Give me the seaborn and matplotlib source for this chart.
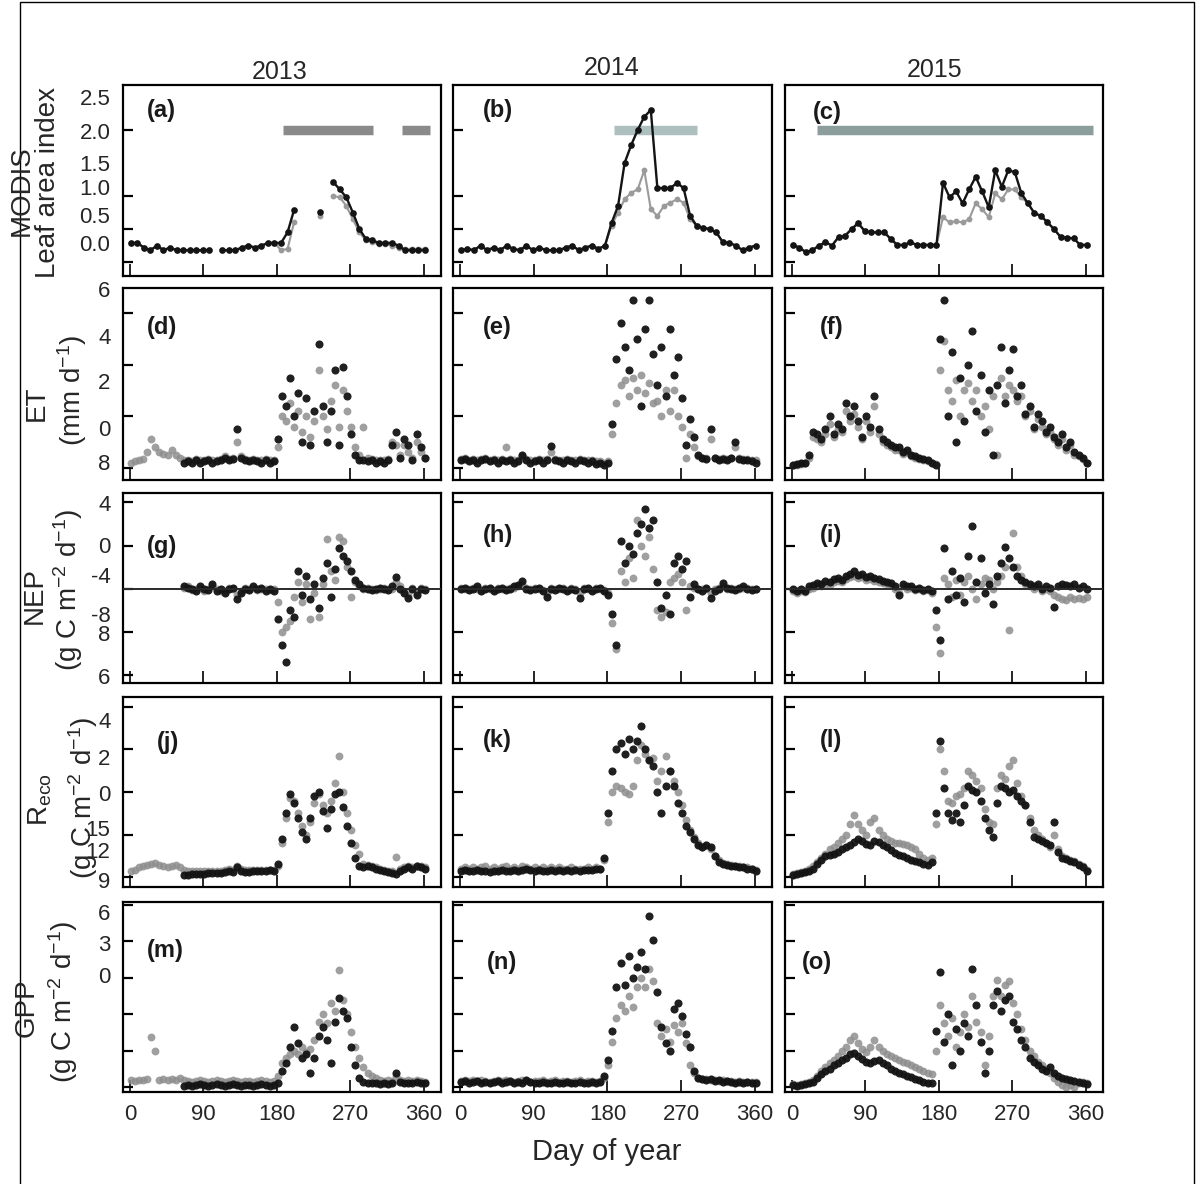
import numpy as np
import pandas as pd
import matplotlib
matplotlib.use('Agg')
import matplotlib.pyplot as plt
import seaborn as sns
from matplotlib.patches import Rectangle
from matplotlib.ticker import FixedLocator, FixedFormatter, NullFormatter

nan = np.nan
years = ['2013', '2014', '2015']
days_lai = np.arange(1, 366, 8)    # MODIS 8-day composites
days_flux = np.arange(1, 366, 5)   # daily fluxes (read every 5 days)

# ---------------- MODIS LAI (black = site, gray = alternative) ----------------
lai_black_2013 = [0.29, 0.29, 0.22, 0.18, 0.25, 0.18, 0.22, 0.18, 0.18, 0.18,
                  0.18, 0.18, 0.18, nan, 0.18, 0.18, 0.18, 0.22, 0.25, 0.22,
                  0.25, 0.29, 0.29, 0.29, 0.45, 0.79, nan, nan, nan, 0.76,
                  nan, 1.21, 1.10, 0.98, 0.75, 0.50, 0.35, 0.33, 0.29, 0.29,
                  0.29, 0.25, 0.18, 0.18, 0.18, 0.18]
lai_gray_2013 = [0.29, 0.29, 0.22, 0.18, 0.25, 0.18, 0.22, 0.18, 0.18, 0.18,
                 0.18, 0.18, 0.18, nan, 0.18, 0.18, 0.18, 0.22, 0.25, 0.22,
                 0.25, 0.29, 0.29, 0.18, 0.20, 0.60, nan, nan, nan, 0.70,
                 nan, 1.00, 0.98, 0.85, 0.65, 0.45, 0.33, 0.30, 0.27, 0.27,
                 0.25, 0.22, 0.20, 0.20, 0.20, 0.20]
lai_black_2014 = [0.18, 0.20, 0.18, 0.25, 0.18, 0.22, 0.18, 0.25, 0.20, 0.18,
                  0.25, 0.18, 0.22, 0.18, 0.18, 0.18, 0.22, 0.25, 0.18, 0.22,
                  0.25, 0.20, 0.25, 0.59, 0.85, 1.50, 1.77, 2.00, 2.20, 2.30,
                  1.12, 1.12, 1.12, 1.20, 1.12, 0.70, 0.55, 0.52, 0.50, 0.45,
                  0.30, 0.29, 0.25, 0.18, 0.22, 0.25]
lai_gray_2014 = [0.18, 0.20, 0.18, 0.25, 0.18, 0.22, 0.18, 0.25, 0.20, 0.18,
                 0.25, 0.18, 0.22, 0.18, 0.18, 0.18, 0.22, 0.25, 0.18, 0.22,
                 0.25, 0.20, 0.25, 0.55, 0.75, 0.95, 1.05, 1.10, 1.39, 0.80,
                 0.70, 0.85, 0.90, 0.95, 0.90, 0.65, 0.55, 0.52, 0.50, 0.45,
                 0.30, 0.29, 0.25, 0.18, 0.22, 0.25]
lai_black_2015 = [0.26, 0.22, 0.15, 0.18, 0.25, 0.30, 0.25, 0.38, 0.40, 0.50,
                  0.59, 0.47, 0.45, 0.45, 0.45, 0.35, 0.26, 0.26, 0.30, 0.26,
                  0.26, 0.26, 0.26, 1.20, 0.98, 1.07, 0.89, 1.10, 1.29, 1.07,
                  0.83, 1.39, 1.14, 1.39, 1.36, 1.04, 0.89, 0.74, 0.70, 0.60,
                  0.50, 0.38, 0.37, 0.36, 0.26, 0.26]
lai_gray_2015 = [0.26, 0.22, 0.15, 0.18, 0.25, 0.30, 0.25, 0.38, 0.40, 0.50,
                 0.59, 0.47, 0.45, 0.45, 0.45, 0.35, 0.26, 0.26, 0.30, 0.26,
                 0.26, 0.26, 0.26, 0.68, 0.60, 0.62, 0.60, 0.65, 0.89, 0.80,
                 0.68, 1.04, 0.95, 1.10, 1.10, 0.98, 0.89, 0.74, 0.70, 0.60,
                 0.50, 0.38, 0.37, 0.36, 0.26, 0.26]

# growing-season bars (start day, end day) drawn at LAI = 2.0
bar_start_2013 = [187, 333]
bar_end_2013 = [298, 368]
bar_start_2014 = [188]
bar_end_2014 = [289]
bar_start_2015 = [31]
bar_end_2015 = [369]
bar_level = 2.0

# ---------------- ET ----------------
et_black_2013 = [nan] * 10 + [
    nan, nan, nan, 0.2, 0.25, 0.2, 0.3, 0.2, 0.25, 0.3,
    0.2, 0.25, 0.3, 0.4, 0.3, 0.35, 1.5, 0.4, 0.3, 0.25,
    0.3, 0.25, 0.2, 0.3, 0.2, 0.25, 1.1, 2.8, 2.4, 3.5,
    2.0, 2.9, 1.0, 2.7, 0.9, 2.2, 4.8, 2.4, 1.0, 2.2,
    3.8, 0.9, 3.9, 2.8, 1.3, 0.5, 0.3, 0.3, 0.25, 0.3,
    0.2, 0.25, 0.2, 0.3, 0.9, 1.4, 0.4, 1.1, 0.9, 0.3,
    1.3, 0.8, 0.4]
et_gray_2013 = [
    0.2, 0.25, 0.3, 0.35, 0.6, 1.1, 0.8, 0.6, 0.55, 0.5,
    0.7, 0.5, 0.4, 0.3, 0.3, 0.25, 0.35, 0.3, 0.3, 0.35,
    0.3, 0.3, 0.35, 0.45, 0.35, 0.4, 1.0, 0.45, 0.35, 0.3,
    0.35, 0.3, 0.3, 0.35, 0.3, 0.3, 0.8, 2.0, 1.8, 2.5,
    1.6, 2.2, 1.4, 2.0, 1.2, 1.8, 3.8, 2.0, 1.5, 2.6,
    3.2, 1.6, 3.0, 2.2, 1.6, 0.8, 0.5, 1.6, 0.4, 0.35,
    0.3, 0.3, 0.3, 0.35, 1.0, 0.9, 0.5, 0.9, 0.6, 0.4,
    1.0, 0.6, 0.4]
et_black_2014 = [
    0.3, 0.35, 0.25, 0.3, 0.2, 0.3, 0.35, 0.25, 0.3, 0.2,
    0.3, 0.25, 0.3, 0.2, 0.25, 0.5, 0.3, 0.2, 0.25, 0.3,
    0.2, 0.3, 0.85, 0.3, 0.25, 0.2, 0.3, 0.25, 0.2, 0.3,
    0.25, 0.2, 0.25, 0.15, 0.2, 0.1, 0.2, 1.7, 4.2, 5.6,
    4.7, 3.8, 6.5, 5.0, 2.4, 5.4, 6.5, 4.4, 3.2, 4.7,
    2.8, 5.4, 3.6, 4.3, 2.7, 0.9, 1.9, 1.2, 0.5, 0.4,
    0.35, 1.5, 0.4, 0.3, 0.35, 0.3, 0.4, 1.0, 0.35, 0.3,
    0.3, 0.25, 0.2]
et_gray_2014 = [
    0.35, 0.4, 0.3, 0.35, 0.3, 0.35, 0.4, 0.3, 0.35, 0.3,
    0.35, 0.8, 0.35, 0.3, 0.3, 0.45, 0.35, 0.3, 0.3, 0.35,
    0.3, 0.35, 0.6, 0.35, 0.3, 0.3, 0.35, 0.3, 0.3, 0.35,
    0.3, 0.3, 0.3, 0.25, 0.25, 0.2, 0.25, 1.3, 2.5, 3.2,
    3.4, 2.8, 3.5, 3.0, 3.6, 2.9, 3.3, 2.5, 2.6, 2.0,
    3.0, 2.2, 3.0, 2.0, 1.6, 0.4, 1.3, 0.8, 0.45, 0.4,
    0.4, 1.1, 0.4, 0.35, 0.4, 0.35, 0.4, 0.8, 0.4, 0.35,
    0.35, 0.3, 0.3]
et_black_2015 = [
    0.1, 0.15, 0.2, 0.2, 0.5, 1.4, 1.3, 1.1, 1.5, 2.0,
    1.3, 1.7, 1.5, 2.5, 2.0, 2.4, 1.8, 1.2, 2.0, 1.6,
    2.8, 1.5, 1.1, 1.0, 0.9, 0.8, 0.8, 0.6, 0.7, 0.5,
    0.45, 0.4, 0.35, 0.3, 0.2, 0.1, 5.0, 6.5, 2.0, 4.5,
    1.0, 3.5, 1.8, 4.0, 5.3, 2.2, 3.6, 1.4, 3.0, 0.5,
    3.2, 4.7, 2.5, 3.8, 4.6, 2.8, 3.2, 2.1, 2.4, 1.6,
    2.1, 1.8, 1.4, 1.6, 1.2, 1.0, 1.3, 0.8, 1.0, 0.6,
    0.5, 0.4, 0.2]
et_gray_2015 = [
    0.1, 0.1, 0.15, 0.2, 0.4, 1.2, 1.1, 1.0, 1.3, 1.7,
    1.2, 1.5, 1.4, 2.2, 1.8, 2.1, 1.6, 1.1, 1.8, 1.4,
    2.4, 1.3, 1.0, 0.9, 0.8, 0.7, 0.7, 0.55, 0.6, 0.45,
    0.4, 0.35, 0.3, 0.25, 0.2, 0.15, 3.8, 4.9, 3.0, 2.6,
    3.4, 2.0, 3.0, 3.3, 2.6, 3.0, 2.0, 2.4, 1.5, 2.8,
    0.5, 3.5, 2.8, 3.2, 3.0, 2.6, 2.8, 2.0, 2.2, 1.5,
    1.9, 1.6, 1.3, 1.4, 1.1, 0.9, 1.1, 0.7, 0.9, 0.5,
    0.45, 0.35, 0.2]

# ---------------- NEP ----------------
nep_black_2013 = [nan] * 10 + [
    nan, nan, nan, 0.1, 0.05, 0.0, -0.1, 0.1, 0.0, -0.05,
    0.2, -0.1, 0.0, -0.2, 0.0, 0.05, -0.5, -0.2, 0.0, -0.05,
    0.1, 0.0, 0.05, -0.1, 0.0, -0.1, -1.4, -2.6, -3.4, -1.0,
    -1.3, 0.8, -0.3, 0.6, -0.5, 0.2, -0.9, 0.5, 1.2, -0.4,
    0.9, 1.9, 1.5, 1.3, 0.8, 0.4, 0.2, 0.05, 0.0, -0.05,
    0.0, 0.05, 0.0, -0.05, 0.1, 0.55, 0.0, -0.2, -0.45, 0.0,
    -0.3, 0.0, -0.05]
nep_gray_2013 = [nan] * 10 + [
    nan, nan, nan, 0.05, 0.1, -0.05, 0.0, 0.05, -0.1, 0.0,
    0.1, 0.0, -0.1, -0.1, 0.05, 0.0, -0.3, -0.1, 0.05, 0.0,
    0.05, -0.05, 0.0, 0.0, -0.05, 0.0, -0.6, -2.0, -1.8, -1.5,
    -0.4, 0.3, -0.6, 0.2, -1.4, -0.2, -1.3, 0.2, 2.3, 0.8,
    0.4, 2.4, 2.2, 1.0, -0.4, 0.3, 0.1, 0.0, 0.05, 0.0,
    -0.05, 0.0, 0.05, 0.0, 0.0, 0.3, 0.1, -0.1, -0.3, 0.05,
    -0.2, 0.05, 0.0]
nep_black_2014 = [
    0.0, 0.05, -0.05, 0.0, 0.1, -0.1, 0.0, 0.05, -0.1, 0.0,
    0.05, -0.05, 0.0, 0.1, 0.15, 0.35, 0.0, -0.05, 0.0, 0.05,
    -0.1, -0.4, 0.0, -0.05, 0.05, 0.0, -0.1, 0.0, -0.05, -0.45,
    0.0, 0.05, -0.1, 0.0, 0.05, -0.1, -0.3, -1.2, -2.6, 2.2,
    1.2, 2.0, 1.6, 2.6, 3.0, 3.7, 2.8, 3.2, 0.3, -0.9,
    -0.3, -1.2, 1.2, 1.5, 0.9, 1.3, -0.4, 0.2, 0.0, -0.1,
    0.05, -0.45, -0.1, 0.0, 0.25, 0.05, 0.0, -0.05, 0.05, 0.1,
    0.0, -0.05, 0.0]
nep_gray_2014 = [
    0.05, 0.0, 0.0, 0.05, 0.0, -0.05, 0.05, 0.0, -0.05, 0.05,
    0.0, 0.0, 0.05, 0.05, 0.1, 0.2, 0.05, 0.0, 0.05, 0.0,
    -0.05, -0.2, 0.05, 0.0, 0.0, 0.05, -0.05, 0.05, 0.0, -0.2,
    0.05, 0.0, -0.05, 0.05, 0.0, -0.05, -0.2, -1.6, -2.8, 0.8,
    0.3, 1.4, 0.5, 3.2, 2.0, 1.5, 2.4, 0.9, -1.0, -1.3,
    -1.1, 0.3, 0.5, 0.7, 0.3, -1.0, 0.1, 0.05, 0.0, 0.0,
    0.0, -0.2, 0.0, 0.05, 0.1, 0.0, 0.05, 0.0, 0.0, 0.05,
    0.05, 0.0, 0.0]
nep_black_2015 = [
    0.0, -0.1, 0.0, -0.1, 0.1, 0.15, 0.25, 0.2, 0.35, 0.3,
    0.45, 0.5, 0.4, 0.6, 0.7, 0.8, 0.65, 0.7, 0.55, 0.6,
    0.5, 0.45, 0.35, 0.3, 0.25, 0.1, -0.3, 0.2, 0.1, 0.1,
    0.0, 0.05, -0.05, 0.0, -0.1, -1.0, -2.4, 1.9, -0.5, 0.8,
    -0.3, 0.5, -0.6, 1.5, 2.9, 0.3, 1.4, -0.2, 0.2, -0.7,
    0.6, 1.2, 1.95, 1.4, 1.0, 0.6, 0.4, 0.3, 0.2, 0.1,
    0.2, 0.0, 0.1, 0.05, -0.85, 0.1, 0.2, 0.15, 0.1, 0.2,
    0.05, 0.1, 0.0]
nep_gray_2015 = [
    -0.1, -0.2, -0.1, -0.15, 0.0, 0.05, 0.1, 0.1, 0.2, 0.15,
    0.3, 0.35, 0.3, 0.45, 0.55, 0.6, 0.5, 0.55, 0.4, 0.45,
    0.35, 0.3, 0.25, 0.2, 0.15, 0.0, -0.2, 0.1, 0.0, 0.05,
    -0.05, 0.0, -0.1, -0.05, -0.2, -1.8, -3.0, 0.5, 0.2, -0.4,
    0.4, -0.3, 0.3, 0.6, 0.0, -0.5, 0.2, 0.5, 0.4, 0.0,
    0.3, 0.6, 1.0, -1.9, 2.6, 1.0, 0.6, 0.2, 0.1, 0.0,
    0.1, -0.1, 0.0, -0.1, -0.3, -0.4, -0.5, -0.55, -0.4, -0.5,
    -0.45, -0.5, -0.4]

# ---------------- Reco ----------------
reco_black_2013 = [nan] * 10 + [
    nan, nan, nan, 0.1, 0.1, 0.12, 0.15, 0.15, 0.15, 0.18,
    0.2, 0.2, 0.2, 0.25, 0.3, 0.25, 0.45, 0.3, 0.25, 0.25,
    0.28, 0.3, 0.3, 0.3, 0.32, 0.3, 0.6, 1.8, 3.0, 3.9,
    3.5, 2.8, 2.1, 1.8, 2.8, 3.8, 4.0, 3.1, 2.3, 3.2,
    3.9, 4.0, 3.3, 2.4, 1.6, 0.9, 0.5, 0.45, 0.5, 0.45,
    0.4, 0.35, 0.3, 0.25, 0.2, 0.15, 0.3, 0.4, 0.45, 0.4,
    0.5, 0.45, 0.4]
reco_gray_2013 = [
    0.3, 0.35, 0.45, 0.5, 0.55, 0.6, 0.65, 0.55, 0.5, 0.45,
    0.5, 0.55, 0.45, 0.35, 0.3, 0.3, 0.3, 0.3, 0.3, 0.3,
    0.3, 0.3, 0.3, 0.35, 0.4, 0.35, 0.5, 0.4, 0.35, 0.35,
    0.35, 0.35, 0.35, 0.35, 0.35, 0.35, 0.5, 1.6, 2.8, 3.7,
    3.6, 3.0, 2.4, 2.0, 2.6, 3.5, 3.9, 3.4, 3.0, 3.6,
    4.4, 5.7, 4.0, 3.0, 2.2, 1.5, 1.1, 0.6, 0.55, 0.5,
    0.45, 0.4, 0.35, 0.3, 0.3, 0.95, 0.4, 0.45, 0.5, 0.45,
    0.5, 0.5, 0.45]
reco_black_2014 = [
    0.3, 0.35, 0.3, 0.3, 0.35, 0.3, 0.3, 0.25, 0.3, 0.3,
    0.35, 0.3, 0.3, 0.35, 0.3, 0.35, 0.4, 0.35, 0.3, 0.35,
    0.3, 0.3, 0.35, 0.3, 0.35, 0.3, 0.35, 0.3, 0.35, 0.3,
    0.35, 0.35, 0.35, 0.4, 0.4, 0.9, 3.0, 5.0, 6.0, 6.3,
    5.8, 6.5, 6.0, 6.4, 7.1, 6.0, 5.5, 5.2, 4.0, 3.0,
    4.3, 5.0, 4.3, 3.5, 3.0, 2.4, 2.1, 1.8, 1.5, 1.4,
    1.5, 1.4, 1.0, 0.7, 0.6, 0.55, 0.5, 0.5, 0.45, 0.45,
    0.4, 0.4, 0.3]
reco_gray_2014 = [
    0.4, 0.45, 0.4, 0.45, 0.4, 0.45, 0.5, 0.4, 0.45, 0.4,
    0.45, 0.5, 0.4, 0.45, 0.4, 0.5, 0.45, 0.4, 0.45, 0.4,
    0.45, 0.4, 0.45, 0.4, 0.45, 0.4, 0.4, 0.45, 0.4, 0.4,
    0.4, 0.45, 0.4, 0.45, 0.4, 0.8, 2.6, 4.0, 4.3, 4.2,
    4.0, 3.9, 4.3, 5.5, 6.2, 5.8, 5.5, 5.6, 4.5, 5.0,
    5.7, 5.0, 4.5, 4.0, 3.4, 2.7, 2.2, 1.9, 1.6, 1.4,
    1.5, 1.3, 1.0, 0.8, 0.65, 0.6, 0.55, 0.5, 0.5, 0.45,
    0.45, 0.4, 0.35]
reco_black_2015 = [
    0.1, 0.15, 0.2, 0.25, 0.3, 0.4, 0.6, 0.8, 1.0, 1.05,
    1.1, 1.2, 1.3, 1.4, 1.5, 1.65, 1.8, 1.7, 1.55, 1.5,
    1.7, 1.65, 1.5, 1.4, 1.25, 1.15, 1.05, 1.0, 0.9, 0.8,
    0.75, 0.7, 0.6, 0.55, 0.7, 3.0, 6.4, 4.2, 3.0, 2.7,
    3.0, 2.6, 3.4, 4.3, 4.1, 4.0, 3.6, 2.8, 2.2, 1.9,
    3.5, 4.3, 4.2, 4.0, 4.1, 3.8, 3.6, 3.4, 2.6, 1.9,
    1.8, 1.7, 1.6, 1.5, 2.6, 1.2, 0.9, 0.85, 0.75, 0.7,
    0.55, 0.45, 0.3]
reco_gray_2015 = [
    0.15, 0.2, 0.25, 0.3, 0.4, 0.5, 0.7, 0.9, 1.1, 1.3,
    1.4, 1.6, 1.8, 2.0, 2.5, 2.9, 2.5, 2.2, 2.0, 2.6,
    2.8, 2.2, 2.0, 1.8, 1.7, 1.6, 1.6, 1.55, 1.5, 1.4,
    1.3, 1.1, 0.9, 0.8, 0.9, 2.5, 6.0, 5.0, 3.6, 3.5,
    3.8, 3.9, 4.2, 5.0, 4.8, 4.5, 4.2, 3.2, 2.6, 2.5,
    4.2, 4.8, 4.6, 5.2, 5.5, 4.4, 3.8, 3.4, 2.8, 2.2,
    2.0, 1.8, 1.6, 1.4, 2.0, 1.3, 1.0, 0.9, 0.8, 0.75,
    0.6, 0.5, 0.35]

# ---------------- GPP ----------------
gpp_black_2013 = [nan] * 10 + [
    nan, nan, nan, 0.05, 0.1, 0.05, 0.1, 0.15, 0.1, 0.05,
    0.1, 0.15, 0.1, 0.05, 0.1, 0.15, 0.1, 0.05, 0.1, 0.1,
    0.05, 0.1, 0.15, 0.1, 0.05, 0.1, 0.2, 0.9, 1.3, 2.2,
    3.3, 2.4, 1.6, 1.8, 0.8, 1.6, 2.8, 3.3, 2.6, 1.3,
    3.6, 4.9, 4.2, 3.8, 2.2, 1.2, 0.5, 0.3, 0.25, 0.2,
    0.2, 0.15, 0.2, 0.15, 0.2, 0.75, 0.3, 0.2, 0.25, 0.2,
    0.3, 0.25, 0.2]
gpp_gray_2013 = [
    0.4, 0.35, 0.4, 0.4, 0.45, 2.75, 2.0, 0.4, 0.45, 0.4,
    0.45, 0.4, 0.5, 0.4, 0.35, 0.3, 0.35, 0.4, 0.35, 0.3,
    0.35, 0.4, 0.35, 0.3, 0.35, 0.4, 0.35, 0.3, 0.35, 0.35,
    0.3, 0.35, 0.4, 0.35, 0.3, 0.35, 0.6, 1.3, 1.6, 1.8,
    2.0, 1.8, 2.2, 1.9, 2.1, 2.6, 3.6, 4.0, 3.5, 4.6,
    4.2, 6.4, 4.8, 4.0, 3.0, 2.2, 1.6, 1.1, 0.8, 0.6,
    0.5, 0.4, 0.35, 0.4, 0.35, 0.6, 0.4, 0.35, 0.4, 0.35,
    0.4, 0.35, 0.3]
gpp_black_2014 = [
    0.3, 0.35, 0.25, 0.3, 0.35, 0.25, 0.3, 0.2, 0.3, 0.35,
    0.25, 0.3, 0.35, 0.2, 0.3, 0.25, 0.4, 0.3, 0.2, 0.25,
    0.3, 0.2, 0.25, 0.3, 0.2, 0.25, 0.3, 0.2, 0.25, 0.3,
    0.2, 0.25, 0.3, 0.25, 0.3, 0.6, 1.5, 3.1, 5.5, 6.8,
    5.6, 7.2, 6.0, 6.6, 7.4, 6.5, 9.4, 8.1, 5.2, 3.3,
    2.4, 2.0, 4.3, 4.6, 3.9, 2.9, 2.2, 0.9, 0.5, 0.45,
    0.4, 0.45, 0.35, 0.4, 0.3, 0.35, 0.3, 0.25, 0.3, 0.25,
    0.3, 0.2, 0.25]
gpp_gray_2014 = [
    0.35, 0.4, 0.35, 0.4, 0.35, 0.4, 0.35, 0.3, 0.35, 0.4,
    0.35, 0.4, 0.35, 0.3, 0.35, 0.4, 0.35, 0.3, 0.35, 0.35,
    0.4, 0.3, 0.35, 0.4, 0.3, 0.35, 0.35, 0.3, 0.35, 0.4,
    0.3, 0.35, 0.35, 0.3, 0.35, 0.5, 1.2, 2.5, 3.8, 4.5,
    4.2, 5.0, 4.4, 5.5, 6.0, 5.5, 6.5, 5.8, 3.5, 2.8,
    3.2, 2.5, 3.4, 3.0, 3.5, 2.4, 1.2, 0.8, 0.5, 0.45,
    0.45, 0.4, 0.4, 0.35, 0.4, 0.35, 0.35, 0.3, 0.35, 0.3,
    0.3, 0.3, 0.3]
gpp_black_2015 = [
    0.1, 0.05, 0.1, 0.15, 0.2, 0.3, 0.5, 0.7, 0.9, 1.0,
    1.2, 1.3, 1.5, 1.6, 1.8, 1.85, 1.7, 1.55, 1.4, 1.3,
    1.45, 1.5, 1.3, 1.2, 1.0, 0.9, 0.8, 0.7, 0.6, 0.55,
    0.45, 0.4, 0.3, 0.25, 0.2, 3.1, 6.3, 2.5, 4.0, 1.2,
    3.2, 2.0, 3.5, 2.8, 6.5, 4.5, 2.5, 0.8, 2.0, 4.5,
    5.3, 4.2, 4.8, 5.0, 3.6, 3.2, 2.6, 2.2, 1.6, 1.4,
    1.2, 1.0, 0.9, 1.1, 0.8, 0.6, 0.5, 0.45, 0.4, 0.35,
    0.3, 0.2, 0.15]
gpp_gray_2015 = [
    0.15, 0.1, 0.15, 0.2, 0.3, 0.4, 0.6, 0.9, 1.1, 1.3,
    1.5, 1.7, 2.0, 2.2, 2.6, 2.8, 2.4, 2.1, 1.9, 2.2,
    2.6, 2.2, 2.0, 1.8, 1.7, 1.6, 1.5, 1.4, 1.3, 1.2,
    1.1, 1.0, 0.9, 0.8, 0.7, 2.0, 4.5, 3.5, 2.8, 3.8,
    2.2, 3.0, 4.0, 3.3, 5.0, 3.6, 3.0, 1.2, 2.8, 5.0,
    5.9, 5.0, 5.6, 5.8, 4.6, 4.0, 3.2, 2.6, 2.0, 1.7,
    1.4, 1.2, 1.0, 0.8, 0.5, 0.3, 0.1, 0.0, 0.1, 0.0,
    0.2, 0.3, 0.2]

# ---------------- axis text (as printed in the figure) ----------------
lai_tick_marks = [0.0, 0.5, 1.0, 1.5, 2.0, 2.5]
lai_label_pos = [2.5, 1.98, 1.5, 1.14, 0.71, 0.29]
lai_label_txt = ['2.5', '2.0', '1.5', '1.0', '0.5', '0.0']
et_tick_marks = [0, 2, 4, 6]
et_label_pos = [6.95, 5.1, 3.35, 1.55, 0.23]
et_label_txt = ['6', '4', '2', '0', '8']
nep_tick_marks = [-4, -2, 0, 2, 4]
nep_label_pos = [3.98, 2.04, 0.65, -1.2, -2.04, -4.07]
nep_label_txt = ['4', '0', '-4', '-8', '8', '6']
reco_tick_marks = [0, 2, 4, 6, 8]
reco_label_pos = [7.39, 5.65, 3.95, 2.31, 1.27, -0.14]
reco_label_txt = ['4', '2', '0', '15', '12', '9']
gpp_tick_marks = [0, 2, 4, 6, 8, 10]
gpp_label_pos = [9.6, 7.9, 6.15]
gpp_label_txt = ['6', '3', '0']
x_ticks = [0, 90, 180, 270, 360]
panel_letters = ['(a)', '(b)', '(c)', '(d)', '(e)', '(f)', '(g)', '(h)', '(i)',
                 '(j)', '(k)', '(l)', '(m)', '(n)', '(o)']

# ---------------- style ----------------
sns.set_style('ticks')
plt.rcParams['font.family'] = ['Liberation Sans', 'DejaVu Sans']
plt.rcParams['mathtext.default'] = 'regular'
plt.rcParams['axes.linewidth'] = 1.6

W, H = 1196, 1184
fig = plt.figure(figsize=(W / 100, H / 100), dpi=100)
fig.patch.set_facecolor('white')

col_left = [123, 453, 785]
col_right = [441, 772, 1103]
row_top = [85, 288, 493, 697, 902]
row_bot = [276, 480, 683, 887, 1092]

BLACK = '#141414'
GRAY = '#8e8e8e'
bar_colors = ['#8a8a8a', '#adbfbf', '#8c9e9c']

lai_black = [lai_black_2013, lai_black_2014, lai_black_2015]
lai_gray = [lai_gray_2013, lai_gray_2014, lai_gray_2015]
bars = [(bar_start_2013, bar_end_2013), (bar_start_2014, bar_end_2014),
        (bar_start_2015, bar_end_2015)]
flux = {
    'et': ([et_black_2013, et_black_2014, et_black_2015],
           [et_gray_2013, et_gray_2014, et_gray_2015]),
    'nep': ([nep_black_2013, nep_black_2014, nep_black_2015],
            [nep_gray_2013, nep_gray_2014, nep_gray_2015]),
    'reco': ([reco_black_2013, reco_black_2014, reco_black_2015],
             [reco_gray_2013, reco_gray_2014, reco_gray_2015]),
    'gpp': ([gpp_black_2013, gpp_black_2014, gpp_black_2015],
            [gpp_gray_2013, gpp_gray_2014, gpp_gray_2015]),
}
row_keys = ['lai', 'et', 'nep', 'reco', 'gpp']
row_ylim = {'lai': (-0.21, 2.68), 'et': (-0.47, 6.97), 'nep': (-4.38, 4.44),
            'reco': (-0.47, 8.47), 'gpp': (-0.27, 10.16)}
row_ticks = {
    'lai': (lai_tick_marks, lai_label_pos, lai_label_txt),
    'et': (et_tick_marks, et_label_pos, et_label_txt),
    'nep': (nep_tick_marks, nep_label_pos, nep_label_txt),
    'reco': (reco_tick_marks, reco_label_pos, reco_label_txt),
    'gpp': (gpp_tick_marks, gpp_label_pos, gpp_label_txt),
}
# panel-letter positions (left px, centre px)
letter_pos = [(147, 111), (483, 110), (813, 112),
              (147, 328), (483, 328), (820, 328),
              (147, 547), (483, 536), (820, 536),
              (157, 742), (483, 740), (820, 740),
              (147, 950), (487, 962), (802, 962)]


def segments(days, vals):
    df = pd.DataFrame({'day': days, 'val': vals})
    df['seg'] = df['val'].isna().cumsum()
    return df.dropna()


for r, key in enumerate(row_keys):
    for c in range(3):
        l, rr = col_left[c], col_right[c]
        t, b = row_top[r], row_bot[r]
        ax = fig.add_axes([l / W, 1 - b / H, (rr - l) / W, (b - t) / H])
        ax.set_facecolor('white')
        if key == 'lai':
            starts, ends = bars[c]
            ax.hlines([bar_level] * len(starts), starts, ends,
                      color=bar_colors[c], lw=6.8, zorder=1)
            dg = segments(days_lai, lai_gray[c])
            sns.lineplot(data=dg, x='day', y='val', units='seg', estimator=None,
                         color='#9a9a9a', lw=1.5, marker='o', markersize=4.2,
                         markeredgewidth=0, ax=ax, zorder=2)
            dk = segments(days_lai, lai_black[c])
            sns.lineplot(data=dk, x='day', y='val', units='seg', estimator=None,
                         color=BLACK, lw=1.7, marker='o', markersize=4.8,
                         markeredgewidth=0, ax=ax, zorder=3)
        else:
            blacks, grays = flux[key]
            dg = pd.DataFrame({'day': days_flux, 'val': grays[c]})
            dk = pd.DataFrame({'day': days_flux, 'val': blacks[c]})
            sns.scatterplot(data=dg, x='day', y='val', color=GRAY, s=32,
                            linewidth=0, alpha=0.85, ax=ax, zorder=2)
            sns.scatterplot(data=dk, x='day', y='val', color=BLACK, s=34,
                            linewidth=0, alpha=0.95, ax=ax, zorder=3)
            if key == 'nep':
                ax.axhline(0, color='#2a2a2a', lw=1.4, zorder=4)
        ax.set_xlim(-8.6, 381)
        ax.set_ylim(*row_ylim[key])
        marks, lpos, ltxt = row_ticks[key]
        # tick marks (inward) as minor ticks; printed labels as major ticks
        ax.yaxis.set_minor_locator(FixedLocator(marks))
        ax.yaxis.set_major_locator(FixedLocator(lpos))
        if c == 0:
            ax.yaxis.set_major_formatter(FixedFormatter(ltxt))
        else:
            ax.yaxis.set_major_formatter(NullFormatter())
        ax.tick_params(axis='y', which='major', length=0, pad=9, labelsize=16)
        ax.tick_params(axis='y', which='minor', direction='in', length=7,
                       width=1.6, color='black')
        ax.set_xticks(x_ticks)
        ax.tick_params(axis='x', which='major', direction='in', length=9,
                       width=1.4, pad=9, labelsize=16,
                       labelbottom=(r == 4))
        ax.set_xlabel('')
        ax.set_ylabel('')
        for sp in ax.spines.values():
            sp.set_visible(True)
            sp.set_linewidth(1.6)
            sp.set_color('black')
        lx, ly = letter_pos[r * 3 + c]
        fig.text(lx / W, 1 - ly / H, panel_letters[r * 3 + c], ha='left',
                 va='center', fontsize=17, fontweight='bold', color='#1a1a1a')

# column titles
for x, y, yr in [(280, 72, years[0]), (612, 68, years[1]), (935, 70, years[2])]:
    fig.text(x / W, 1 - y / H, yr, ha='center', va='center', fontsize=18)

# row titles
unit = '(g C m$^{-2}$ d$^{-1}$)'
row_titles = [(22, 191, 'MODIS'), (48, 182, 'Leaf area index'),
              (37, 403, 'ET'), (72, 390, '(mm d$^{-1}$)'),
              (35, 595, 'NEP'), (68, 590, unit),
              (40, 800, 'R$_{eco}$'), (83, 798, unit),
              (27, 1008, 'GPP'), (63, 1002, unit)]
for x, y, s in row_titles:
    fig.text(x / W, 1 - y / H, s, rotation=90, ha='center', va='center',
             fontsize=20)

fig.text(607 / W, 1 - 1152 / H, 'Day of year', ha='center', va='center',
         fontsize=21)

fig.patches.append(Rectangle((20 / W, -0.01), (1194 - 20) / W, 1.01 - 2 / H,
                             transform=fig.transFigure, fill=False,
                             lw=1.0, ec='black'))

fig.savefig('out.png', dpi=100, facecolor='white')
